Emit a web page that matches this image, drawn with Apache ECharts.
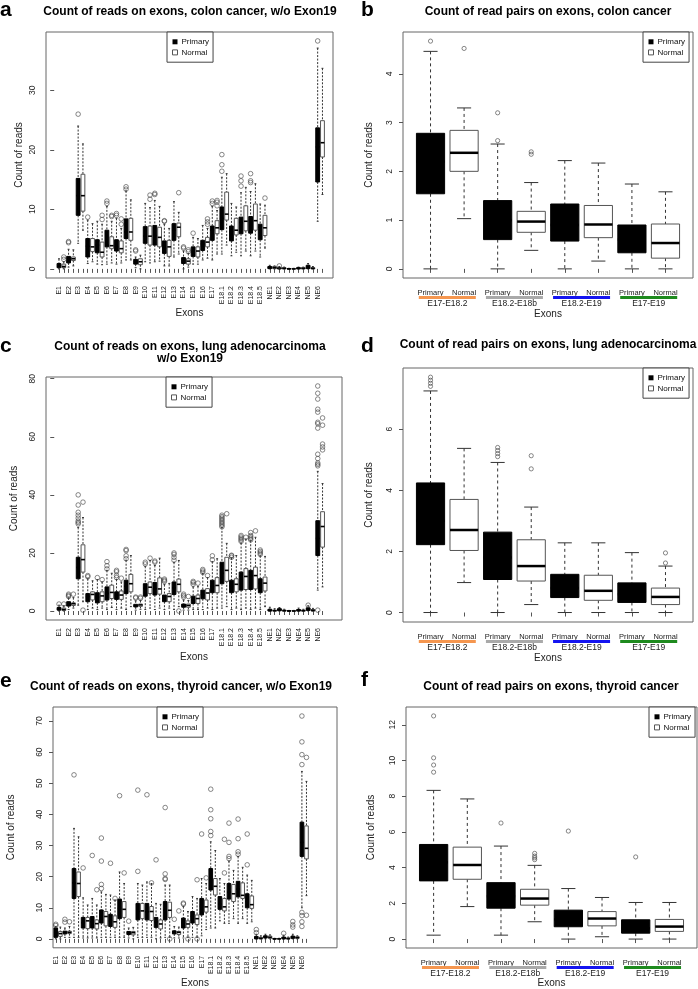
<!DOCTYPE html>
<html><head><meta charset="utf-8">
<script src="https://cdn.jsdelivr.net/npm/echarts@6/dist/echarts.min.js"></script>
<style>html,body{margin:0;padding:0;background:#fff}#c{width:698px;height:989px}</style>
</head><body><div id="c"></div><script>
// ---------------- DATA ----------------
const exonNames = ['E1','E2','E3','E4','E5','E6','E7','E8','E9','E10','E11','E12','E13','E14','E15','E16','E17','E18.1','E18.2','E18.3','E18.4','E18.5','NE1','NE2','NE3','NE4','NE5','NE6'];
const boxNames = ['Primary','Normal'];
const pairGroups = ['E17-E18.2','E18.2-E18b','E18.2-E19','E17-E19'];

// box stats: [min, Q1, median, Q3, max]
const colonPrimary = [[0,0.2,0.5,0.9,1.7],[0.3,1.0,1.6,2.1,3.3],[4.3,9.0,12.3,15.2,24.0],[0.9,2.0,3.8,5.1,8.2],[0.8,2.7,4.0,4.9,8.0],[0.8,3.7,4.0,6.5,10.5],[0.8,3.0,3.7,4.9,8.5],[1.5,5.1,6.2,8.4,13.1],[0.2,0.8,1.2,1.6,2.0],[1.2,4.3,5.5,7.1,11.0],[1.2,4.0,5.6,7.3,11.5],[0.5,2.6,3.5,4.7,7.5],[2.0,4.8,6.5,7.6,11.3],[0,0.9,1.4,1.9,3.0],[0.8,2.1,2.9,3.7,5.3],[1.5,3.1,4.2,4.8,7.3],[1.5,4.8,6.5,7.2,10.5],[2.5,6.6,8.5,10.4,15.4],[2.2,4.7,6.3,7.2,11.0],[2.2,5.9,7.8,8.7,12.8],[2.2,6.0,8.2,8.8,13.0],[2.0,4.9,7.0,7.5,10.9],[0,0.05,0.2,0.4,0.6],[0,0,0.1,0.2,0.4],[0,0,0,0.05,0.1],[0,0,0.1,0.2,0.3],[0,0.05,0.3,0.6,0.9],[8.0,14.6,20.5,23.7,37.1]];
const colonNormal = [[0,0.2,0.4,0.8,1.2],[0.5,1.4,1.7,2.0,3.2],[6.5,9.7,12.3,15.9,21.0],[1.2,2.9,3.7,5.1,7.6],[0.7,2.0,2.8,4.5,7.5],[1.0,3.4,3.9,5.4,8.0],[1.0,2.7,3.4,4.7,6.8],[1.5,4.8,6.2,8.5,11.6],[0,0.7,1.2,1.7,2.3],[1.0,4.0,5.5,7.2,10.3],[1.3,3.7,5.3,7.0,10.5],[0.5,2.1,3.7,4.8,6.8],[2.5,5.4,7.0,7.7,9.5],[0.3,0.8,1.3,1.7,2.6],[0.8,2.0,3.0,3.7,5.1],[1.8,3.7,4.5,5.3,6.8],[2.5,5.9,6.9,8.1,9.8],[4.0,8.2,9.2,12.9,16.0],[2.8,5.7,6.5,8.5,10.4],[3.0,6.4,8.0,10.6,13.7],[3.0,6.5,8.1,10.9,14.3],[3.5,5.6,6.9,9.0,10.7],[0,0.05,0.2,0.4,0.5],[0,0,0.1,0.2,0.3],[0,0,0,0.05,0.1],[0,0,0.1,0.2,0.3],[0,0,0.1,0.2,0.4],[12.5,18.8,21.2,24.9,33.7]];
const colonPrimaryOut = [[],[4.4,4.6],[26.0],[8.7],[],[11.0,11.4],[9.0,9.3],[13.4,13.8],[3.0,3.2],[],[12.5,12.7],[8.0,8.1],[],[3.5,3.7],[6.0],[],[11.0,11.4],[16.4,17.5,19.2],[],[13.9,14.8,15.6],[14.5,14.8,16.0],[],[],[0.5],[],[],[],[38.3]];
const colonNormalOut = [[1.6,2.0],[],[],[],[8.3,9.0],[8.8,9.0],[7.5,8.4],[],[],[11.7,12.4],[],[],[12.8],[2.9,3.2],[],[7.5,7.9,8.4],[10.6,11.2,11.5],[],[],[],[],[11.9],[],[],[],[],[],[]];

const lungPrimary = [[0,0.3,0.6,1.2,2.0],[0.5,1.7,2.2,3.2,4.5],[2.0,11.1,15.0,18.5,28.8],[0.5,3.2,5.0,6.0,11.1],[0.5,2.8,4.8,6.3,10.8],[0.5,3.8,6.0,8.3,14.0],[0.5,4.0,5.4,6.6,10.9],[0.5,6.0,8.5,10.6,17.5],[0.3,1.4,1.8,2.3,3.5],[0.5,5.1,7.8,9.4,15.4],[0.5,5.5,7.7,9.8,15.7],[0.5,3.2,4.8,5.5,9.1],[0.5,5.7,8.0,10.0,16.8],[0.3,1.3,1.9,2.4,3.8],[0.5,2.6,3.8,5.1,8.3],[0.5,4.2,5.6,7.2,12.9],[0.5,6.3,8.5,10.6,17.0],[1.0,9.4,13.0,16.8,28.8],[0.5,6.3,8.6,10.6,18.3],[0.5,7.2,12.0,13.4,23.4],[0.5,7.4,12.2,14.0,24.2],[0.5,6.3,9.5,11.1,19.0],[0,0,0.2,0.6,1.3],[0,0.1,0.4,0.8,1.2],[0,0,0,0.1,0.2],[0,0,0.2,0.5,1.0],[0,0.2,0.6,1.1,1.8],[7.2,19.1,25.0,31.1,48.1]];
const lungNormal = [[0,0.2,0.5,1.0,1.8],[1.0,1.9,2.5,2.8,4.6],[3.2,13.4,17.7,22.8,32.2],[1.0,3.8,5.7,6.6,10.4],[1.0,3.2,5.2,6.6,10.0],[1.2,4.3,6.4,8.9,13.0],[1.0,4.0,5.5,6.9,10.0],[1.5,6.6,9.4,12.6,19.1],[0.6,1.6,2.1,2.4,3.6],[1.0,6.0,8.2,10.0,17.4],[1.0,5.8,7.6,11.4,18.2],[1.0,3.2,5.0,6.0,9.5],[1.5,6.6,9.2,11.0,17.4],[0.3,1.3,1.9,2.4,3.6],[0.5,2.6,4.3,5.5,8.5],[1.0,3.8,6.2,7.7,11.5],[1.0,6.3,8.8,11.5,18.0],[1.5,10.2,14.0,18.5,23.3],[1.0,6.6,9.2,11.1,19.1],[1.0,7.4,11.9,14.6,24.8],[1.0,7.6,12.2,15.1,25.4],[1.5,6.9,9.6,11.7,18.8],[0,0,0.1,0.3,0.8],[0,0,0.1,0.3,0.6],[0,0,0,0.1,0.2],[0,0,0.1,0.3,0.6],[0,0,0.2,0.5,0.9],[8.3,22.0,29.1,34.2,43.9]];
const lungPrimaryOut = [[2.4],[5.0,5.4,5.8],[30.0,30.5,31.0,32.0,33.0,34.0,36.5,40.0],[11.8,12.2],[11.5],[14.5,15.6,17.0],[11.5,12.2,13.5,14.0],[18.0,19.0,20.8,21.2],[4.5,4.8],[16.2,16.8],[16.8,17.2],[10.2,10.6,11.0],[17.5,18.5,19.5,20.0],[4.8,5.3,5.8],[9.2,9.8,10.2],[13.3,13.8,14.3],[17.6,19.0],[29.0,29.5,30.0,30.5,31.0,31.5,32.0,32.5,33.0],[18.5,19.0,19.2],[24.0,24.5,25.0,25.5,26.0],[24.5,25.0,25.5,26.0,27.0],[19.5,20.0,20.5,21.0],[],[],[],[],[2.0],[0.3,50.0,50.5,51.0,52.5,54.0,63.0,64.5,65.0,68.5,69.5,73.0,75.0,77.5]];
const lungNormalOut = [[2.4],[5.8],[0.3,37.5],[],[10.8],[],[11.3],[],[4.4,4.8],[18.2],[],[],[0],[5.0],[9.6],[12.2],[],[33.5],[],[25.4],[27.6],[],[],[],[],[],[],[55.5,56.5,57.5,64.0,66.5]];

const thyPrimary = [[0,0.5,2.0,3.5,4.0],[0.5,1.6,2.1,2.5,3.5],[0.5,13.0,18.0,22.6,35.5],[0.3,3.5,5.2,6.9,13.2],[0.3,3.5,5.5,7.2,13.0],[0.5,5.1,7.2,9.3,15.1],[0.5,4.0,5.8,7.9,14.1],[0.5,6.5,9.8,12.8,21.5],[0.3,1.4,2.0,2.4,3.5],[0.5,6.1,8.8,11.4,17.8],[0.5,6.1,8.7,11.4,18.3],[0,3.7,5.5,6.9,11.4],[0.5,6.1,9.3,12.0,17.3],[0.3,1.6,2.2,2.6,4.0],[0.3,3.5,5.2,6.7,10.4],[0.5,5.1,7.2,8.8,13.6],[1.0,7.7,10.5,13.0,19.4],[3.5,15.7,19.0,22.6,31.2],[5.8,9.5,11.2,13.6,19.4],[5.0,12.8,15.0,17.8,25.0],[5.0,13.5,16.0,18.5,26.5],[5.0,10.0,12.0,14.5,20.5],[0,0,0.3,0.8,1.5],[0,0.3,0.6,1.0,1.5],[0,0,0,0.1,0.2],[0,0,0.2,0.6,1.2],[0,0.2,0.5,0.9,1.5],[10.0,26.5,31.0,37.5,53.8]];
const thyNormal = [[0,0.8,1.7,2.4,3.8],[0.5,1.7,2.1,2.5,4.0],[0.5,13.6,17.8,21.5,32.8],[0.3,3.3,5.8,6.9,10.9],[0.3,3.2,4.9,6.1,10.9],[0.5,4.2,7.2,8.8,14.3],[0.5,3.7,5.5,7.4,12.5],[0.5,6.9,9.5,12.0,17.8],[0,1.3,2.0,2.4,3.7],[0.5,6.5,9.0,11.4,17.3],[0.5,5.9,8.8,10.4,17.8],[0.3,3.2,4.8,6.1,11.1],[0.5,6.9,9.2,11.8,17.3],[0.3,1.4,2.1,2.4,3.8],[0.5,3.7,4.8,5.8,8.8],[0.5,4.6,6.5,7.7,13.0],[3.0,8.6,10.3,12.5,17.8],[3.5,14.1,16.9,19.4,28.4],[5.0,9.0,10.3,13.0,17.8],[6.5,12.0,14.5,17.5,22.0],[6.5,13.0,14.0,18.0,23.0],[5.5,9.8,11.0,13.8,18.8],[0,0,0.2,0.5,1.0],[0,0.2,0.5,0.9,1.3],[0,0,0,0.1,0.2],[0,0,0.1,0.3,0.6],[0,0.2,0.4,0.7,1.0],[13.9,25.7,29.1,36.3,50.6]];
const thyPrimaryOut = [[4.3,4.7],[5.4,6.3],[52.7],[22.8],[26.8],[16.2,17.5,25.0,32.4],[24.3],[46.0],[5.7],[21.7,47.8],[46.3],[25.4],[19.1,19.4,20.9,42.2],[6.3],[11.2,11.5],[],[33.7],[33.2,34.5,38.6,41.5,48.1],[],[25.8,26.5,31.0,37.2],[27.2,28.0,32.2,38.5],[23.8,33.7],[2.0,3.0],[],[],[1.8],[3.8,4.5,5.6],[4.0,5.5,7.5,8.5,56.0,59.2,63.3,71.6]];
const thyNormalOut = [[],[5.5],[],[],[15.8],[],[13.0],[21.2],[],[],[18.0],[],[0],[9.0],[0],[0,19.0],[19.6],[],[21.2,32.0],[],[],[],[],[],[],[],[],[7.6,58.3]];

const colonPairPrimary = [[0,1.54,2.2,2.78,4.46],[0,0.6,1.0,1.4,2.56],[0,0.57,0.9,1.33,2.22],[0,0.33,0.6,0.9,1.74]];
const colonPairNormal = [[1.03,2.0,2.38,2.84,3.3],[0.38,0.75,0.97,1.18,1.77],[0.16,0.64,0.91,1.3,2.17],[0,0.22,0.53,0.92,1.58]];
const colonPairPrimaryOut = [[4.67],[2.63,3.2],[],[]];
const colonPairNormalOut = [[4.52],[2.35,2.4],[],[]];

const lungPairPrimary = [[0,2.22,3.0,4.24,7.25],[0,1.08,1.8,2.63,4.91],[0,0.49,0.8,1.25,2.28],[0,0.33,0.6,0.97,1.96]];
const lungPairNormal = [[0.98,2.03,2.7,3.7,5.37],[0.26,1.03,1.52,2.38,3.45],[0,0.4,0.71,1.22,2.28],[0,0.26,0.51,0.8,1.52]];
const lungPairPrimaryOut = [[7.4,7.5,7.6,7.7],[5.1,5.2,5.3,5.4],[],[]];
const lungPairNormalOut = [[],[4.7,5.13],[],[1.62,1.95]];

const thyPairPrimary = [[0.22,3.26,4.3,5.3,8.33],[0.22,1.73,2.4,3.16,5.21],[0,0.69,1.1,1.62,2.83],[0,0.33,0.6,1.08,2.05]];
const thyPairNormal = [[1.82,3.35,4.15,5.15,7.85],[0.97,1.9,2.27,2.79,4.13],[0.13,0.74,1.15,1.54,2.33],[0,0.43,0.7,1.1,2.05]];
const thyPairPrimaryOut = [[9.35,9.75,10.15,12.5],[6.5],[6.05],[4.6]];
const thyPairNormalOut = [[],[4.45,4.55,4.65,4.8],[],[]];

const yTicksColon = [0,10,20,30];
const yTicksColonPair = [0,1,2,3,4];
const yTicksLung = [0,20,40,60,80];
const yTicksLungPair = [0,2,4,6];
const yTicksThy = [0,10,20,30,40,50,60,70];
const yTicksThyPair = [0,2,4,6,8,10,12];

// ---------------- STYLE / LAYOUT ----------------
const FONT = '"Liberation Sans", Arial, Helvetica, sans-serif';
const GROUP_COLORS = ['#F5964F','#A9A9A9','#1414F0','#1E8A1E'];

const panels = [
  {title:'Count of reads on exons, colon cancer, w/o Exon19', letter:'a', lx:0, ly:0, tx:190, ty:6,
   grid:{left:46, top:32, width:287, height:246}, x:[-1.71,58.2], y:[-1.53,39.8], yt:yTicksColon, long:true,
   P:colonPrimary, N:colonNormal, PO:colonPrimaryOut, NO:colonNormalOut, leg:[167,32], yGap:22, xGap:30},
  {title:'Count of read pairs on exons, colon cancer', letter:'b', lx:361, ly:0, tx:548, ty:6,
   grid:{left:403, top:32, width:290, height:246}, x:[0.18,8.82], y:[-0.187,4.857], yt:yTicksColonPair, long:false,
   P:colonPairPrimary, N:colonPairNormal, PO:colonPairPrimaryOut, NO:colonPairNormalOut, leg:[643,32], yGap:29, xGap:31},
  {title:'Count of reads on exons, lung adenocarcinoma\nw/o Exon19', letter:'c', lx:0, ly:336, tx:190, ty:341,
   grid:{left:46, top:377, width:296, height:243}, x:[-1.72,60.06], y:[-3.1,80.6], yt:yTicksLung, long:true,
   P:lungPrimary, N:lungNormal, PO:lungPrimaryOut, NO:lungNormalOut, leg:[166,377], yGap:27, xGap:32},
  {title:'Count of read pairs on exons, lung adenocarcinoma', letter:'d', lx:361, ly:336, tx:548, ty:339,
   grid:{left:403, top:368, width:290, height:254}, x:[0.18,8.82], y:[-0.31,8.0], yt:yTicksLungPair, long:false,
   P:lungPairPrimary, N:lungPairNormal, PO:lungPairPrimaryOut, NO:lungPairNormalOut, leg:[643,368], yGap:29, xGap:31},
  {title:'Count of reads on exons, thyroid cancer, w/o Exon19', letter:'e', lx:0, ly:671, tx:181, ty:681,
   grid:{left:53, top:707, width:284, height:242}, x:[0.39,62.7], y:[-2.86,74.5], yt:yTicksThy, long:true,
   P:thyPrimary, N:thyNormal, PO:thyPrimaryOut, NO:thyNormalOut, leg:[157,707], yGap:37, xGap:30},
  {title:'Count of read pairs on exons, thyroid cancer', letter:'f', lx:361, ly:670, tx:551, ty:681,
   grid:{left:406, top:707, width:291, height:241}, x:[0.18,8.82], y:[-0.5,13.0], yt:yTicksThyPair, long:false,
   P:thyPairPrimary, N:thyPairNormal, PO:thyPairPrimaryOut, NO:thyPairNormalOut, leg:[649,707], yGap:30, xGap:30}
];

function makeRender(cfg) {
  return function (params, api) {
    const x = api.value(0);
    const mn = api.value(1), q1 = api.value(2), md = api.value(3), q3 = api.value(4), mx = api.value(5);
    const tl = api.coord([x - cfg.half, q3]);
    const br = api.coord([x + cfg.half, q1]);
    const top = api.coord([x, mx]);
    const bot = api.coord([x, mn]);
    const medY = api.coord([x, md])[1];
    const sL = api.coord([x - cfg.half / 2, mx])[0];
    const sR = api.coord([x + cfg.half / 2, mx])[0];
    const cx = top[0];
    const ws = {stroke: cfg.wcol, lineWidth: 1, lineDash: cfg.dash};
    const ss = {stroke: cfg.wcol, lineWidth: 1};
    return {type: 'group', children: [
      {type: 'line', shape: {x1: cx, y1: top[1], x2: cx, y2: tl[1]}, style: ws},
      {type: 'line', shape: {x1: cx, y1: br[1], x2: cx, y2: bot[1]}, style: ws},
      {type: 'line', shape: {x1: sL, y1: top[1], x2: sR, y2: top[1]}, style: ss},
      {type: 'line', shape: {x1: sL, y1: bot[1], x2: sR, y2: bot[1]}, style: ss},
      {type: 'rect', shape: {x: tl[0], y: tl[1], width: br[0] - tl[0], height: br[1] - tl[1]},
       style: {fill: cfg.fill, stroke: cfg.stroke, lineWidth: 1}},
      {type: 'line', shape: {x1: tl[0], y1: medY, x2: br[0], y2: medY}, style: {stroke: '#000', lineWidth: cfg.medW}}
    ]};
  };
}

const option = {animation: false, backgroundColor: '#fff', title: [], legend: [], grid: [], xAxis: [], yAxis: [], series: []};

panels.forEach((p, pi) => {
  option.title.push({text: p.letter, left: p.lx, top: p.ly, padding: 0,
    textStyle: {fontFamily: FONT, fontWeight: 'bold', fontSize: 21, lineHeight: 21, color: '#000'}});
  option.title.push({text: p.title, left: p.tx, top: p.ty, textAlign: 'center', padding: 0,
    textStyle: {fontFamily: FONT, fontWeight: 'bold', fontSize: 12, lineHeight: 11.5, color: '#000'}});
  option.grid.push(Object.assign({show: true, borderColor: '#666', borderWidth: 1, backgroundColor: 'transparent', containLabel: false}, p.grid));
  option.legend.push({left: p.leg[0], top: p.leg[1], orient: 'vertical', selectedMode: false,
    padding: [5, 4, 5, 5], itemGap: 1, itemWidth: 5, itemHeight: 5,
    borderColor: '#444', borderWidth: 1, backgroundColor: '#fff',
    textStyle: {fontFamily: FONT, fontSize: 8, lineHeight: 9.6, color: '#111', padding: [0, 0, 0, -1]},
    data: [{name: 'Primary', icon: 'rect', itemStyle: {color: '#000', borderWidth: 0}},
           {name: 'Normal', icon: 'rect', itemStyle: {color: '#fff', borderColor: '#555', borderWidth: 1}}]});

  const nCat = p.P.length;
  const tickPos = [];
  for (let i = 1; i <= nCat * 2; i++) tickPos.push(i);
  const labelPos = p.long ? tickPos.filter(v => v % 2 === 1) : tickPos;

  option.xAxis.push({type: 'value', gridIndex: pi, min: p.x[0], max: p.x[1], position: 'bottom',
    splitLine: {show: false}, axisLine: {show: false},
    axisTick: {show: true, customValues: tickPos, length: 4, lineStyle: {color: '#555'}},
    axisLabel: p.long ? {customValues: labelPos, rotate: 90, margin: 8, fontSize: 7, fontFamily: FONT, color: '#222',
                 formatter: v => exonNames[Math.round((v - 1) / 2)]}
               : {customValues: labelPos, margin: 11, fontSize: 7.5, fontFamily: FONT, color: '#222',
                 formatter: v => boxNames[(Math.round(v) - 1) % 2]},
    name: 'Exons', nameLocation: 'middle', nameGap: p.xGap,
    nameTextStyle: {fontFamily: FONT, fontSize: 10, color: '#222'}});
  option.yAxis.push({type: 'value', gridIndex: pi, min: p.y[0], max: p.y[1],
    splitLine: {show: false}, axisLine: {show: false},
    axisTick: {show: true, customValues: p.yt, length: 4, lineStyle: {color: '#555'}},
    axisLabel: {customValues: p.yt, rotate: 90, margin: 9, fontSize: 8.5, fontFamily: FONT, color: '#222'},
    name: 'Count of reads', nameLocation: 'middle', nameGap: p.yGap, nameRotate: 90,
    nameTextStyle: {fontFamily: FONT, fontSize: 10, color: '#222'}});

  const half = p.long ? 0.4 : 0.42;
  const dash = p.long ? [2, 1.5] : [3, 3];
  const medW = p.long ? 1.6 : 2.5;
  const sym = p.long ? 4.6 : 4.2;
  option.series.push({type: 'custom', name: 'Primary', xAxisIndex: pi, yAxisIndex: pi, silent: true,
    itemStyle: {color: '#000'}, encode: {x: 0, y: [1, 2, 3, 4, 5]},
    data: p.P.map((s, i) => [i * 2 + 1].concat(s)),
    renderItem: makeRender({half: half, fill: '#000', stroke: '#000', wcol: '#333', dash: dash, medW: medW}), z: 2});
  option.series.push({type: 'custom', name: 'Normal', xAxisIndex: pi, yAxisIndex: pi, silent: true,
    itemStyle: {color: '#fff', borderColor: '#555'}, encode: {x: 0, y: [1, 2, 3, 4, 5]},
    data: p.N.map((s, i) => [i * 2 + 2].concat(s)),
    renderItem: makeRender({half: half, fill: '#fff', stroke: '#555', wcol: '#333', dash: dash, medW: medW}), z: 2});
  const outs = [];
  p.PO.forEach((o, i) => o.forEach(v => outs.push([i * 2 + 1, v])));
  p.NO.forEach((o, i) => o.forEach(v => outs.push([i * 2 + 2, v])));
  option.series.push({type: 'scatter', name: 'outliers' + pi, xAxisIndex: pi, yAxisIndex: pi, silent: true,
    symbol: 'circle', symbolSize: sym, data: outs, z: 3,
    itemStyle: {color: 'rgba(0,0,0,0)', borderColor: '#444', borderWidth: 0.8}});
});

// group label axes (colored bars + group names) for b, d, f
[1, 3, 5].forEach(pi => {
  const p = panels[pi];
  const rich = {t: {fontFamily: FONT, fontSize: 8.5, lineHeight: 9, color: '#222'}};
  GROUP_COLORS.forEach((c, i) => { rich['c' + i] = {width: 57, height: 3, lineHeight: 3, backgroundColor: c}; });
  option.xAxis.push({type: 'value', gridIndex: pi, min: p.x[0], max: p.x[1], position: 'bottom',
    splitLine: {show: false}, axisLine: {show: false}, axisTick: {show: false},
    axisLabel: {customValues: pairGroups.map((g, i) => i * 2 + 1.5), margin: 18, rich: rich,
      formatter: v => { const i = Math.round((v - 1.5) / 2); return '{c' + i + '| }\n{t|' + pairGroups[i] + '}'; }}});
});

const chart = echarts.init(document.getElementById('c'), null, {renderer: 'canvas'});
chart.setOption(option);
</script></body></html>
